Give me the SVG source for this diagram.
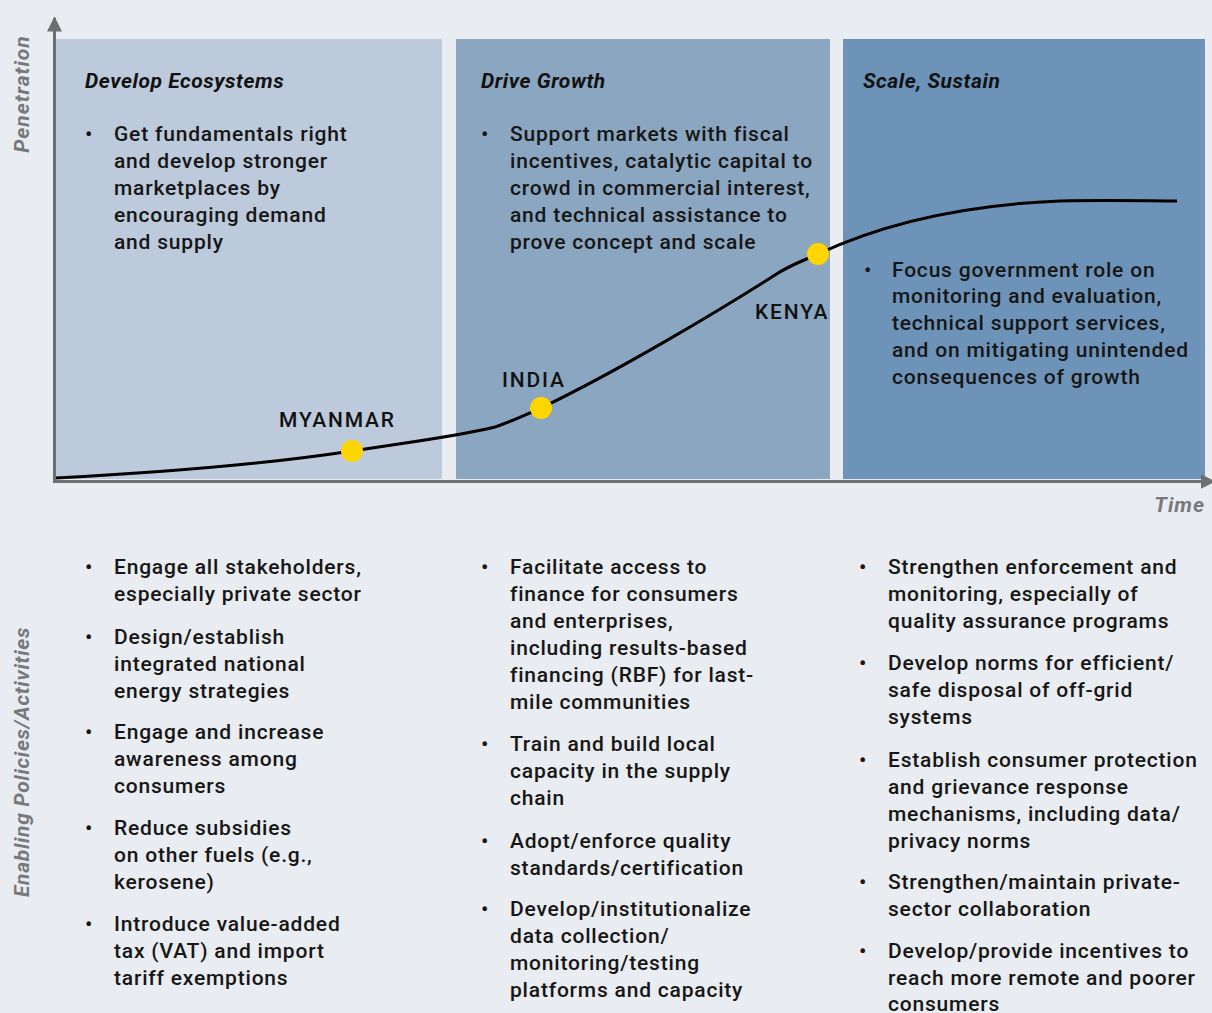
<svg xmlns="http://www.w3.org/2000/svg" width="1212" height="1013" viewBox="0 0 1212 1013">
  <style>
    .title { font-family: Roboto, "Liberation Sans", sans-serif; font-size: 21px; font-weight: 700; font-style: italic; letter-spacing: 0.55px; fill: #111; }
    .body { font-family: Roboto, "Liberation Sans", sans-serif; font-size: 21px; font-weight: 500; letter-spacing: 0.8px; fill: #161616; }
    .axis-label { font-family: Roboto, "Liberation Sans", sans-serif; font-size: 21px; font-weight: 700; font-style: italic; letter-spacing: 1px; fill: #77797c; }
    .axis-label.long { letter-spacing: 0.7px; }
    .country { font-family: Roboto, "Liberation Sans", sans-serif; font-size: 21px; font-weight: 500; letter-spacing: 1.8px; fill: #111; }
    .axis { stroke: #6e6f71; stroke-width: 3; fill: none; }
    .dot { fill: #ffd500; }
  </style>
  <defs>
    <marker id="arrow" viewBox="0 0 10 10" refX="9" refY="5" markerWidth="5" markerHeight="6" orient="auto" markerUnits="strokeWidth">
      <path d="M0,0 L10,5 L0,10 z" fill="#6e6f71"/>
    </marker>
  </defs>

  <rect width="1212" height="1013" fill="#e9ecf0"/>

  <!-- phase panels -->
  <g id="panel-develop">
    <rect x="56" y="39" width="386" height="440" fill="#bccadb"/>
    <text class="title" x="85" y="88">Develop Ecosystems</text>
    <text class="body" x="85" y="141">•</text>
    <text class="body">
      <tspan x="114" y="141">Get fundamentals right</tspan>
      <tspan x="114" y="168">and develop stronger</tspan>
      <tspan x="114" y="195">marketplaces by</tspan>
      <tspan x="114" y="222">encouraging demand</tspan>
      <tspan x="114" y="249">and supply</tspan>
    </text>
  </g>
  <g id="panel-drive">
    <rect x="456" y="39" width="374" height="440" fill="#8aa6c1"/>
    <text class="title" x="481" y="88">Drive Growth</text>
    <text class="body" x="481" y="141">•</text>
    <text class="body">
      <tspan x="510" y="141">Support markets with fiscal</tspan>
      <tspan x="510" y="168">incentives, catalytic capital to</tspan>
      <tspan x="510" y="195">crowd in commercial interest,</tspan>
      <tspan x="510" y="222">and technical assistance to</tspan>
      <tspan x="510" y="249">prove concept and scale</tspan>
    </text>
  </g>
  <g id="panel-scale">
    <rect x="843" y="39" width="362" height="440" fill="#6d94b8"/>
    <text class="title" x="863" y="88">Scale, Sustain</text>
    <text class="body" x="864" y="277">•</text>
    <text class="body">
      <tspan x="892" y="277">Focus government role on</tspan>
      <tspan x="892" y="303">monitoring and evaluation,</tspan>
      <tspan x="892" y="330">technical support services,</tspan>
      <tspan x="892" y="357">and on mitigating unintended</tspan>
      <tspan x="892" y="384">consequences of growth</tspan>
    </text>
  </g>

  <!-- axes and adoption curve -->
  <g id="connectors">
    <line class="axis" x1="54.5" y1="483" x2="54.5" y2="18" marker-end="url(#arrow)"/>
    <line class="axis" x1="53" y1="481.5" x2="1214" y2="481.5" marker-end="url(#arrow)"/>
    <path d="M56,478 C170,472 280,462 352,451 C410,442 460,436 495,427 C510,422 525,415 541,408 C620,370 720,310 775,275 C790,265 805,260 818,254 C880,225 960,205 1060,201 C1110,200 1150,201 1177,201" fill="none" stroke="#000" stroke-width="3"/>
  </g>

  <g id="axis-labels">
    <text class="axis-label" transform="translate(29,94) rotate(-90)" text-anchor="middle">Penetration</text>
    <text class="axis-label" x="1205" y="512" text-anchor="end">Time</text>
    <text class="axis-label long" transform="translate(29,762) rotate(-90)" text-anchor="middle">Enabling Policies/Activities</text>
  </g>

  <g id="myanmar">
    <circle class="dot" cx="352" cy="451" r="11"/>
    <text class="country" x="279" y="427">MYANMAR</text>
  </g>
  <g id="india">
    <circle class="dot" cx="541" cy="408" r="11"/>
    <text class="country" x="502" y="387">INDIA</text>
  </g>
  <g id="kenya">
    <circle class="dot" cx="818" cy="254" r="11"/>
    <text class="country" x="755" y="319">KENYA</text>
  </g>

  <!-- enabling policies, column 1 -->
  <g id="policies-develop">
    <g class="body">
      <text x="85" y="574">•</text>
      <text x="85" y="644">•</text>
      <text x="85" y="739">•</text>
      <text x="85" y="835">•</text>
      <text x="85" y="931">•</text>
    </g>
    <text class="body">
      <tspan x="114" y="574">Engage all stakeholders,</tspan>
      <tspan x="114" y="601">especially private sector</tspan>
      <tspan x="114" y="644">Design/establish</tspan>
      <tspan x="114" y="671">integrated national</tspan>
      <tspan x="114" y="698">energy strategies</tspan>
      <tspan x="114" y="739">Engage and increase</tspan>
      <tspan x="114" y="766">awareness among</tspan>
      <tspan x="114" y="793">consumers</tspan>
      <tspan x="114" y="835">Reduce subsidies</tspan>
      <tspan x="114" y="862">on other fuels (e.g.,</tspan>
      <tspan x="114" y="889">kerosene)</tspan>
      <tspan x="114" y="931">Introduce value-added</tspan>
      <tspan x="114" y="958">tax (VAT) and import</tspan>
      <tspan x="114" y="985">tariff exemptions</tspan>
    </text>
  </g>

  <!-- enabling policies, column 2 -->
  <g id="policies-drive">
    <g class="body">
      <text x="481" y="574">•</text>
      <text x="481" y="751">•</text>
      <text x="481" y="848">•</text>
      <text x="481" y="916">•</text>
    </g>
    <text class="body">
      <tspan x="510" y="574">Facilitate access to</tspan>
      <tspan x="510" y="601">finance for consumers</tspan>
      <tspan x="510" y="628">and enterprises,</tspan>
      <tspan x="510" y="655">including results-based</tspan>
      <tspan x="510" y="682">financing (RBF) for last-</tspan>
      <tspan x="510" y="709">mile communities</tspan>
      <tspan x="510" y="751">Train and build local</tspan>
      <tspan x="510" y="778">capacity in the supply</tspan>
      <tspan x="510" y="805">chain</tspan>
      <tspan x="510" y="848">Adopt/enforce quality</tspan>
      <tspan x="510" y="875">standards/certification</tspan>
      <tspan x="510" y="916">Develop/institutionalize</tspan>
      <tspan x="510" y="943">data collection/</tspan>
      <tspan x="510" y="970">monitoring/testing</tspan>
      <tspan x="510" y="997">platforms and capacity</tspan>
    </text>
  </g>

  <!-- enabling policies, column 3 -->
  <g id="policies-scale">
    <g class="body">
      <text x="859" y="574">•</text>
      <text x="859" y="670">•</text>
      <text x="859" y="767">•</text>
      <text x="859" y="889">•</text>
      <text x="859" y="958">•</text>
    </g>
    <text class="body">
      <tspan x="888" y="574">Strengthen enforcement and</tspan>
      <tspan x="888" y="601">monitoring, especially of</tspan>
      <tspan x="888" y="628">quality assurance programs</tspan>
      <tspan x="888" y="670">Develop norms for efficient/</tspan>
      <tspan x="888" y="697">safe disposal of off-grid</tspan>
      <tspan x="888" y="724">systems</tspan>
      <tspan x="888" y="767">Establish consumer protection</tspan>
      <tspan x="888" y="794">and grievance response</tspan>
      <tspan x="888" y="821">mechanisms, including data/</tspan>
      <tspan x="888" y="848">privacy norms</tspan>
      <tspan x="888" y="889">Strengthen/maintain private-</tspan>
      <tspan x="888" y="916">sector collaboration</tspan>
      <tspan x="888" y="958">Develop/provide incentives to</tspan>
      <tspan x="888" y="985">reach more remote and poorer</tspan>
      <tspan x="888" y="1011">consumers</tspan>
    </text>
  </g>
</svg>
